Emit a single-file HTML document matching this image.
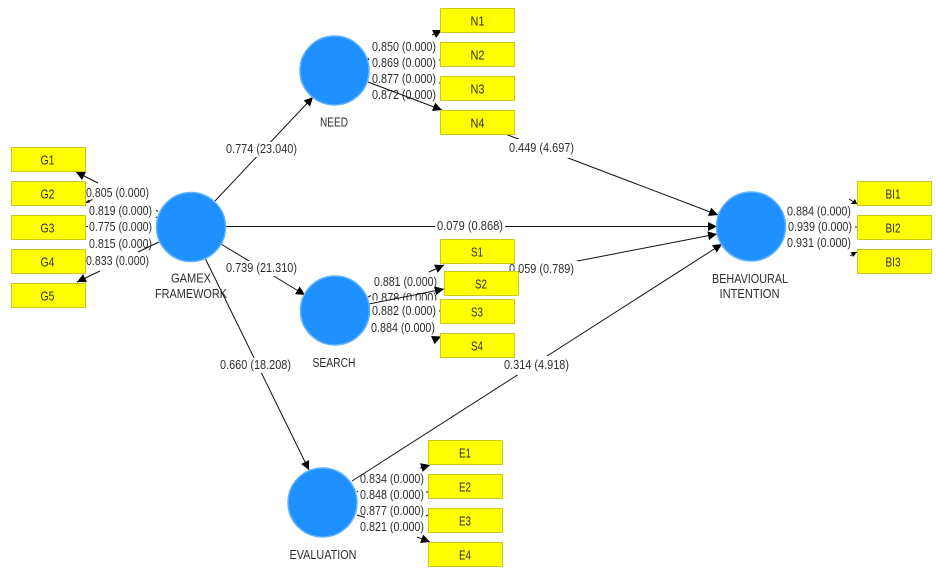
<!DOCTYPE html>
<html><head><meta charset="utf-8">
<style>
html,body{margin:0;padding:0;background:#fff}
svg{display:block}
text{font-family:"Liberation Sans",sans-serif;font-size:12.5px;fill:#2e2e2e}
.l{stroke:#111;stroke-width:1;fill:none}
.h{fill:#000;stroke:none}
.b{fill:#ffff00;stroke:#c9c91e;stroke-width:1}
.c{fill:#1e90ff;stroke:#62b3ff;stroke-width:1.5}
.w{fill:#fff}
</style></head>
<body>
<svg width="936" height="572" viewBox="0 0 936 572" xmlns="http://www.w3.org/2000/svg">
<defs>
<marker id="a" markerWidth="10" markerHeight="10" refX="9" refY="4.500" orient="auto" markerUnits="userSpaceOnUse"><path d="M0,0 L9,4.500 L0,9 Z" class="h"/></marker>
</defs>

<!-- structural paths -->
<line class="l" x1="215" y1="201" x2="313" y2="97" marker-end="url(#a)"/>
<line class="l" x1="221" y1="244" x2="305" y2="295" marker-end="url(#a)"/>
<line class="l" x1="205" y1="258" x2="309" y2="470" marker-end="url(#a)"/>
<line class="l" x1="226" y1="226.500" x2="717" y2="226.500" marker-end="url(#a)"/>
<line class="l" x1="500" y1="132" x2="718" y2="215" marker-end="url(#a)"/>
<line class="l" x1="500" y1="276" x2="717" y2="234" marker-end="url(#a)"/>
<line class="l" x1="352" y1="481" x2="722" y2="244" marker-end="url(#a)"/>

<!-- path labels -->
<rect class="w" x="224" y="142" width="75" height="15"/><text x="226" y="153" textLength="71" lengthAdjust="spacingAndGlyphs">0.774 (23.040)</text>
<rect class="w" x="224" y="261" width="75" height="15"/><text x="226" y="272" textLength="71" lengthAdjust="spacingAndGlyphs">0.739 (21.310)</text>
<rect class="w" x="218" y="358" width="75" height="15"/><text x="220" y="369" textLength="71" lengthAdjust="spacingAndGlyphs">0.660 (18.208)</text>
<rect class="w" x="435" y="219" width="70" height="15"/><text x="437" y="230" textLength="66" lengthAdjust="spacingAndGlyphs">0.079 (0.868)</text>
<rect class="w" x="505" y="139" width="72" height="19"/><text x="509" y="152" textLength="65" lengthAdjust="spacingAndGlyphs">0.449 (4.697)</text>
<rect class="w" x="505" y="261" width="73" height="17"/><text x="509" y="273" textLength="65" lengthAdjust="spacingAndGlyphs">0.059 (0.789)</text>
<rect class="w" x="500" y="356" width="72" height="19"/><text x="504" y="369" textLength="65" lengthAdjust="spacingAndGlyphs">0.314 (4.918)</text>

<!-- G stubs -->
<line class="l" x1="98" y1="183" x2="76" y2="172" marker-end="url(#a)"/>
<line class="l" x1="92.500" y1="199.500" x2="86" y2="202.500"/>
<path class="h" d="M85,203 L89,199.500 L90,202.500 Z"/>
<line class="l" x1="86" y1="226.500" x2="88" y2="226.500"/>
<line class="l" x1="156" y1="210" x2="158" y2="211.500"/>
<line class="l" x1="156" y1="217" x2="158" y2="218"/>
<line class="l" x1="138" y1="252" x2="159" y2="242"/>
<line class="l" x1="100" y1="271" x2="77" y2="282" marker-end="url(#a)"/>

<!-- G labels -->
<text x="86" y="197" textLength="63" lengthAdjust="spacingAndGlyphs">0.805 (0.000)</text>
<text x="89" y="215" textLength="63" lengthAdjust="spacingAndGlyphs">0.819 (0.000)</text>
<text x="89" y="231" textLength="63" lengthAdjust="spacingAndGlyphs">0.775 (0.000)</text>
<text x="89" y="248" textLength="63" lengthAdjust="spacingAndGlyphs">0.815 (0.000)</text>
<text x="86" y="265" textLength="63" lengthAdjust="spacingAndGlyphs">0.833 (0.000)</text>

<!-- N stubs + labels -->
<line class="l" x1="432" y1="35" x2="442" y2="30" marker-end="url(#a)"/>
<line class="l" x1="368" y1="58" x2="369" y2="60"/>
<line class="l" x1="439" y1="60" x2="440" y2="60" stroke-width="2"/>
<line class="l" x1="439" y1="83" x2="440" y2="83" stroke-width="2"/>
<text x="372" y="51" textLength="64" lengthAdjust="spacingAndGlyphs">0.850 (0.000)</text>
<text x="372" y="67" textLength="64" lengthAdjust="spacingAndGlyphs">0.869 (0.000)</text>
<text x="372" y="83" textLength="64" lengthAdjust="spacingAndGlyphs">0.877 (0.000)</text>
<text x="372" y="99" textLength="64" lengthAdjust="spacingAndGlyphs">0.872 (0.000)</text>
<line class="l" x1="368" y1="82" x2="442" y2="110" marker-end="url(#a)"/>

<!-- S stubs + labels -->
<line class="l" x1="429" y1="272" x2="444" y2="265" marker-end="url(#a)"/>
<line class="l" x1="368" y1="297" x2="371" y2="295.500"/>
<line class="l" x1="439" y1="311" x2="440" y2="311" stroke-width="2"/>
<line class="l" x1="433" y1="340" x2="441" y2="336.500" marker-end="url(#a)"/>
<text x="374" y="286" textLength="63" lengthAdjust="spacingAndGlyphs">0.881 (0.000)</text>
<text x="372" y="302" textLength="65" lengthAdjust="spacingAndGlyphs">0.878 (0.000)</text>
<rect class="w" x="370" y="300.500" width="68" height="5"/>
<text x="372" y="315" textLength="64" lengthAdjust="spacingAndGlyphs">0.882 (0.000)</text>
<text x="371" y="332" textLength="64" lengthAdjust="spacingAndGlyphs">0.884 (0.000)</text>
<line class="l" x1="369" y1="304" x2="444" y2="289" marker-end="url(#a)"/>

<!-- E stubs + labels -->
<line class="l" x1="420" y1="468" x2="430" y2="465" marker-end="url(#a)"/>
<line class="l" x1="357" y1="491" x2="358" y2="492"/>
<line class="l" x1="426" y1="492" x2="428" y2="492" stroke-width="1.500"/>
<line class="l" x1="426" y1="516" x2="428" y2="515" stroke-width="1.500"/>
<line class="l" x1="357" y1="515" x2="365" y2="517.500"/>
<line class="l" x1="417" y1="537" x2="430" y2="542" marker-end="url(#a)"/>
<text x="360" y="483" textLength="64" lengthAdjust="spacingAndGlyphs">0.834 (0.000)</text>
<text x="360" y="499" textLength="64" lengthAdjust="spacingAndGlyphs">0.848 (0.000)</text>
<text x="360" y="515" textLength="64" lengthAdjust="spacingAndGlyphs">0.877 (0.000)</text>
<text x="360" y="531" textLength="64" lengthAdjust="spacingAndGlyphs">0.821 (0.000)</text>

<!-- BI stubs + labels -->
<line class="l" x1="849" y1="199" x2="857" y2="204"/>
<path class="h" d="M857,204 L851,204 L855,199 Z"/>
<line class="l" x1="855" y1="227" x2="857" y2="227" stroke-width="1.500"/>
<line class="l" x1="850" y1="256" x2="857" y2="252"/>
<path class="h" d="M857,252 L851,252 L853,257 Z"/>
<text x="787" y="215.500" textLength="64" lengthAdjust="spacingAndGlyphs">0.884 (0.000)</text>
<text x="788" y="231" textLength="64" lengthAdjust="spacingAndGlyphs">0.939 (0.000)</text>
<text x="787" y="247" textLength="64" lengthAdjust="spacingAndGlyphs">0.931 (0.000)</text>

<!-- circles -->
<circle class="c" cx="191" cy="227" r="34.500"/>
<circle class="c" cx="334.500" cy="70.500" r="34.500"/>
<circle class="c" cx="335" cy="310.500" r="34.500"/>
<circle class="c" cx="322.500" cy="502.500" r="34.500"/>
<circle class="c" cx="751" cy="226.500" r="34.500"/>

<!-- boxes -->
<g>
<rect class="b" x="11.500" y="147.500" width="74" height="24"/>
<rect class="b" x="11.500" y="181.500" width="74" height="24"/>
<rect class="b" x="11.500" y="215.500" width="74" height="24"/>
<rect class="b" x="11.500" y="249.500" width="74" height="24"/>
<rect class="b" x="11.500" y="283.500" width="74" height="24"/>
<rect class="b" x="440.500" y="8.500" width="74" height="24"/>
<rect class="b" x="440.500" y="42.500" width="74" height="24"/>
<rect class="b" x="440.500" y="76.500" width="74" height="24"/>
<rect class="b" x="440.500" y="110.500" width="74" height="24"/>
<rect class="b" x="440.500" y="239.500" width="74" height="24"/>
<rect class="b" x="444.500" y="271.500" width="74" height="24"/>
<rect class="b" x="440.500" y="299.500" width="74" height="24"/>
<rect class="b" x="440.500" y="333.500" width="74" height="24"/>
<rect class="b" x="428.500" y="440.500" width="74" height="24"/>
<rect class="b" x="428.500" y="474.500" width="74" height="24"/>
<rect class="b" x="428.500" y="508.500" width="74" height="24"/>
<rect class="b" x="428.500" y="542.500" width="74" height="24"/>
<rect class="b" x="857.500" y="181.500" width="74" height="24"/>
<rect class="b" x="857.500" y="215.500" width="74" height="24"/>
<rect class="b" x="857.500" y="249.500" width="74" height="24"/>
</g>

<!-- box text -->
<g text-anchor="middle">
<text x="47.500" y="164.500" textLength="14" lengthAdjust="spacingAndGlyphs">G1</text>
<text x="47.500" y="198.500" textLength="14" lengthAdjust="spacingAndGlyphs">G2</text>
<text x="47.500" y="232.500" textLength="14" lengthAdjust="spacingAndGlyphs">G3</text>
<text x="47.500" y="266.500" textLength="14" lengthAdjust="spacingAndGlyphs">G4</text>
<text x="47.500" y="300.500" textLength="14" lengthAdjust="spacingAndGlyphs">G5</text>
<text x="477.500" y="25.500" textLength="14" lengthAdjust="spacingAndGlyphs">N1</text>
<text x="477.500" y="59.500" textLength="14" lengthAdjust="spacingAndGlyphs">N2</text>
<text x="477.500" y="93.500" textLength="14" lengthAdjust="spacingAndGlyphs">N3</text>
<text x="477.500" y="127.500" textLength="14" lengthAdjust="spacingAndGlyphs">N4</text>
<text x="477" y="256.500" textLength="12" lengthAdjust="spacingAndGlyphs">S1</text>
<text x="481" y="288.500" textLength="12" lengthAdjust="spacingAndGlyphs">S2</text>
<text x="477" y="316.500" textLength="12" lengthAdjust="spacingAndGlyphs">S3</text>
<text x="477" y="350.500" textLength="12" lengthAdjust="spacingAndGlyphs">S4</text>
<text x="465" y="457.500" textLength="12" lengthAdjust="spacingAndGlyphs">E1</text>
<text x="465" y="491.500" textLength="12" lengthAdjust="spacingAndGlyphs">E2</text>
<text x="465" y="525.500" textLength="12" lengthAdjust="spacingAndGlyphs">E3</text>
<text x="465" y="559.500" textLength="12" lengthAdjust="spacingAndGlyphs">E4</text>
<text x="893" y="198.500" textLength="15" lengthAdjust="spacingAndGlyphs">BI1</text>
<text x="893" y="232.500" textLength="15" lengthAdjust="spacingAndGlyphs">BI2</text>
<text x="893" y="266.500" textLength="15" lengthAdjust="spacingAndGlyphs">BI3</text>

<text x="191" y="282.500" textLength="40" lengthAdjust="spacingAndGlyphs">GAMEX</text>
<text x="191" y="298" textLength="72" lengthAdjust="spacingAndGlyphs">FRAMEWORK</text>
<text x="334" y="126.500" textLength="28" lengthAdjust="spacingAndGlyphs">NEED</text>
<text x="334" y="367" textLength="43" lengthAdjust="spacingAndGlyphs">SEARCH</text>
<text x="323" y="559" textLength="67" lengthAdjust="spacingAndGlyphs">EVALUATION</text>
<text x="750" y="283" textLength="76" lengthAdjust="spacingAndGlyphs">BEHAVIOURAL</text>
<text x="749.500" y="298" textLength="60" lengthAdjust="spacingAndGlyphs">INTENTION</text>
</g>
</svg>
</body></html>
